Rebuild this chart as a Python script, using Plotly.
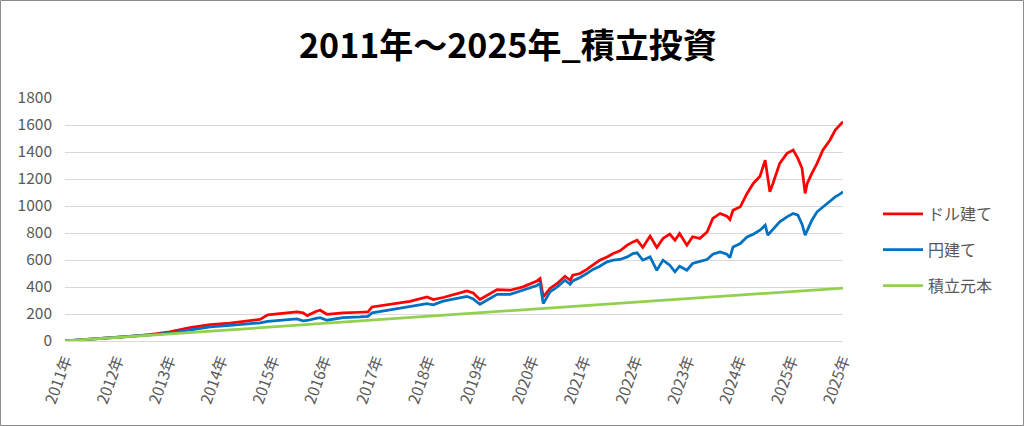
import plotly.graph_objects as go

# time position in label units (0 = first label "2011年", 15 = last label)
t = [0.00, 0.48, 0.87, 1.25, 1.64, 2.02, 2.41, 2.80, 3.18, 3.57,
     3.76, 3.91, 4.20, 4.47, 4.59, 4.67, 4.86, 4.92, 5.05, 5.17,
     5.36, 5.69, 5.84, 5.92, 6.32, 6.65, 6.98, 7.10, 7.29, 7.75,
     7.87, 8.00, 8.33, 8.58, 8.83, 9.10, 9.16, 9.22, 9.35, 9.49,
     9.64, 9.74, 9.79, 9.93, 10.06, 10.18, 10.31, 10.45, 10.57, 10.70,
     10.84, 10.95, 11.03, 11.14, 11.28, 11.41, 11.53, 11.66, 11.76, 11.85,
     11.99, 12.10, 12.24, 12.38, 12.49, 12.63, 12.76, 12.82, 12.88, 13.02,
     13.15, 13.27, 13.40, 13.50, 13.55, 13.59, 13.65, 13.78, 13.92, 14.04,
     14.13, 14.21, 14.27, 14.31, 14.40, 14.50, 14.61, 14.75, 14.85, 14.94,
     15.00]

dollar = [0, 12, 23, 34, 48, 67, 99, 121, 133, 148,
          160, 194, 203, 215, 208, 188, 222, 228, 198, 203,
          208, 213, 215, 252, 272, 294, 326, 307, 322, 371,
          356, 307, 381, 376, 401, 445, 463, 326, 389, 426,
          480, 450, 487, 500, 530, 561, 599, 623, 648, 668,
          710, 734, 747, 693, 777, 693, 760, 792, 747, 797,
          710, 772, 760, 808, 908, 945, 925, 900, 969, 994,
          1093, 1167, 1221, 1340, 1216, 1105, 1167, 1316, 1390, 1414,
          1353, 1279, 1093, 1167, 1242, 1316, 1414, 1489, 1563, 1600,
          1624]

yen = [0, 12, 23, 33, 46, 59, 84, 104, 116, 129,
       134, 146, 153, 163, 150, 152, 170, 173, 154, 163,
       173, 178, 183, 208, 233, 252, 277, 268, 295, 331,
       311, 272, 346, 346, 376, 411, 426, 277, 363, 401,
       450, 420, 445, 470, 500, 530, 554, 586, 599, 604,
       623, 648, 653, 599, 623, 524, 599, 561, 512, 554,
       524, 574, 590, 604, 643, 660, 643, 618, 697, 722,
       771, 791, 821, 858, 784, 801, 821, 883, 920, 945,
       932, 865, 784, 821, 895, 957, 994, 1038, 1068, 1088,
       1105]

principal = [0, 12.5, 22.7, 32.7, 42.9, 52.8, 63.0, 73.2, 83.1, 93.3,
             98.2, 102.2, 109.7, 116.8, 119.9, 122.0, 127.0, 128.6, 131.9, 135.1,
             140.1, 148.7, 152.6, 154.7, 165.2, 173.8, 182.4, 185.5, 190.5, 202.5,
             205.6, 209.0, 217.7, 224.2, 230.7, 237.8, 239.3, 240.9, 244.3, 248.0,
             251.9, 254.5, 255.8, 259.5, 262.9, 266.0, 269.4, 273.1, 276.2, 279.6,
             283.2, 286.1, 288.2, 291.1, 294.7, 298.1, 301.3, 304.7, 307.3, 309.6,
             313.3, 316.2, 319.8, 323.5, 326.4, 330.0, 333.4, 335.0, 336.6, 340.2,
             343.6, 346.7, 350.1, 352.8, 354.1, 355.1, 356.7, 360.1, 363.7, 366.9,
             369.3, 371.3, 372.9, 373.9, 376.3, 378.9, 381.8, 385.4, 388.0, 390.4,
             392.0]

tick_pos = list(range(16))
tick_labels = ["2011年", "2012年", "2013年", "2014年", "2015年", "2016年",
               "2017年", "2018年", "2019年", "2020年", "2021年", "2022年",
               "2023年", "2024年", "2025年", "2025年"]

series_names = ["ドル建て", "円建て", "積立元本"]
title_text = "2011年～2025年_積立投資"

FONT = "Noto Sans CJK JP"
W, H = 1024, 426
ML, MR, MT, MB = 65, 181, 98, 85
PW, PH = W - ML - MR, H - MT - MB

fig = go.Figure()
for name, vals, col, g in [(series_names[0], dollar, "#FF0000", "a"),
                           (series_names[1], yen, "#0070C0", "b"),
                           (series_names[2], principal, "#92D050", "c")]:
    fig.add_trace(go.Scatter(x=t, y=vals, mode="lines", name=name,
                             legendgroup=g,
                             line=dict(color=col, width=2.75)))

fig.update_layout(
    width=W, height=H,
    margin=dict(l=ML, r=MR, t=MT, b=MB),
    paper_bgcolor="white", plot_bgcolor="white",
    title=dict(text=title_text, x=0.496, xanchor="center", xref="container",
               y=1 - 46 / H, yanchor="middle", yref="container",
               font=dict(family=FONT, size=34, color="black", weight="bold")),
    legend=dict(x=(878 - ML) / PW, xanchor="left", y=(341 - 250) / PH, yanchor="middle",
                font=dict(family=FONT, size=16, color="#595959"),
                tracegroupgap=12, bgcolor="rgba(0,0,0,0)", itemwidth=40),
    showlegend=True,
)

fig.update_xaxes(range=[0, 15], tickmode="array", tickvals=tick_pos, ticktext=tick_labels,
                 tickangle=-70, showgrid=False, zeroline=False, showline=False, ticks="",
                 tickfont=dict(family=FONT, size=15.5, color="#595959"),
                 ticklabelstandoff=6)
fig.update_yaxes(range=[0, 1800], dtick=200, showgrid=True, gridcolor="#D9D9D9", gridwidth=1,
                 zeroline=True, zerolinecolor="#D9D9D9", zerolinewidth=1, showline=False,
                 ticks="", tickfont=dict(family=FONT, size=15.5, color="#595959"),
                 ticklabelstandoff=12)

# outer chart border
fig.add_shape(type="rect", xref="paper", yref="paper",
              x0=(-ML + 0.5) / PW, x1=(W - ML - 0.5) / PW,
              y0=(-MB + 0.5) / PH, y1=(H - MB - 0.5) / PH,
              line=dict(color="#8C8C8C", width=1), fillcolor="rgba(0,0,0,0)", layer="below")

fig.write_html("out.html", config={"displayModeBar": False},
               post_script="document.body.style.margin='0';document.body.style.overflow='hidden';")
